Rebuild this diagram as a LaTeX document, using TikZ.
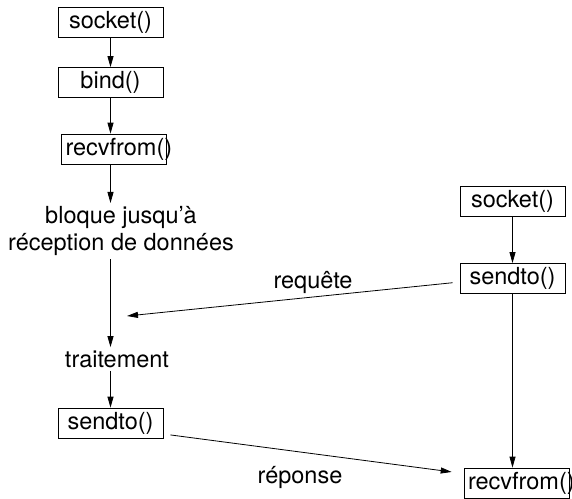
\documentclass[tikz,border=0pt]{standalone}
\usepackage{fontspec}
\setmainfont{TeX Gyre Heros}
\usetikzlibrary{arrows.meta}
\usetikzlibrary{positioning}
\usetikzlibrary{calc}
\tikzstyle{call}=[draw,minimum height=30pt,inner ysep=0pt,inner xsep=4pt,text width=97pt,align=center]
\tikzstyle{stage}=[inner sep=3pt,align=center]
\tikzstyle{msg}=[font=\fontsize{23.5}{27}\selectfont]

\begin{document}
\begin{tikzpicture}[x=1pt,y=-1pt,line width=0.8pt,>={Triangle[length=11pt,width=6pt]},font=\fontsize{23.5}{27}\selectfont]

   \useasboundingbox (0,0) rectangle (572,498);

    \foreach \pos/\name/\txt in {{(110.5,22)/socketA/socket()}, {(110.5,82.5)/bindA/bind()}, {(114,149)/recvfromA/recvfrom()}, {(110.5,423)/sendtoA/sendto()}, {(512.5,201.5)/socketB/socket()}, {(512.5,278.5)/sendtoB/sendto()}, {(516.5,483)/recvfromB/recvfrom()}}
        \node[call] (\name) at \pos {\txt};

    \node[stage] (bloque) at (121,231) {bloque jusqu'à\\réception de données};
    \node[stage] (traitA) at (117,359) {traitement};

    \foreach \source/\dest in {socketA/bindA, bindA/recvfromA, recvfromA/bloque, bloque/traitA, traitA/sendtoA}
                \draw[->] (\source.south -| socketA) -- (\dest.north -| socketA);

    \foreach \source/\dest in {socketB/sendtoB, sendtoB/recvfromB}
                \draw[->] (\source.south -| socketB) -- (\dest.north -| socketB);

%  requete vers le serveur
\coordinate (reqend) at (127,316);
\draw[->, shorten <=7pt] ([yshift=-3.5pt]sendtoB.west) -- (reqend);
\node[msg, anchor=base] (req) at (313,288) {requête};

%  reponse vers le client
\draw[->, shorten <=7pt, shorten >=12pt] ([yshift=-11pt]sendtoA.east) -- ([yshift=9.5pt]recvfromB.west);
\node[msg, anchor=base] (rep) at (300,483) {réponse};

\end{tikzpicture}
\end{document}
